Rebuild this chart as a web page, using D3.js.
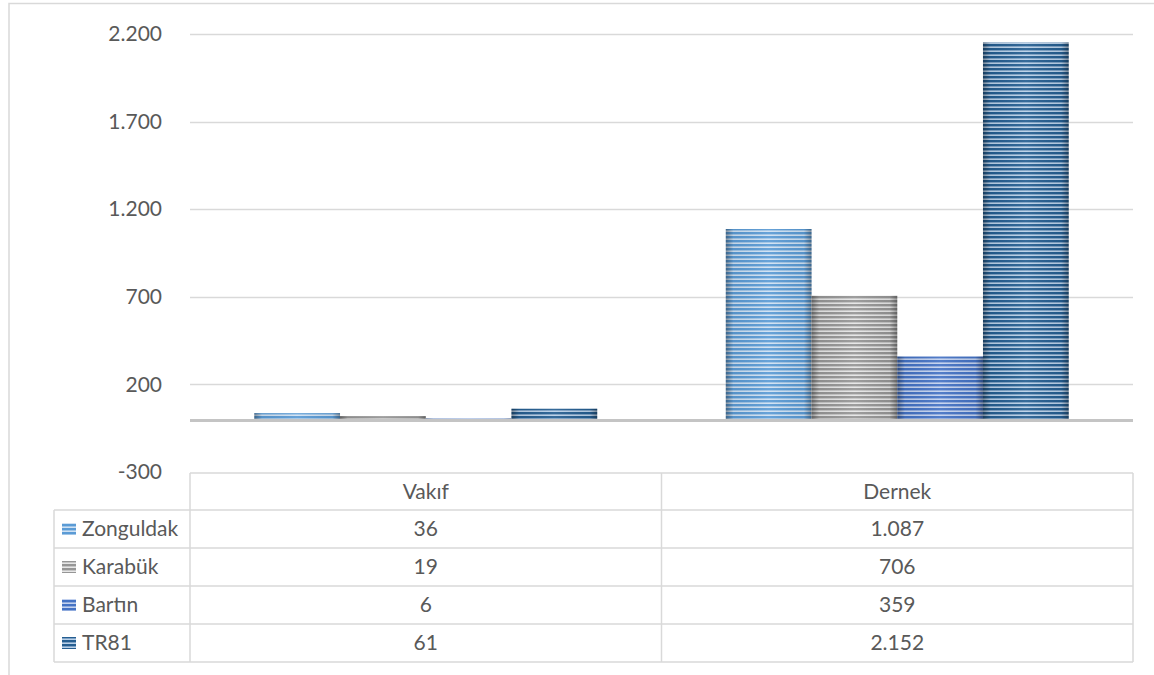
<!DOCTYPE html>
<html>
<head>
<meta charset="utf-8">
<script src="https://cdn.jsdelivr.net/npm/d3@7"></script>
<style>
  body { margin: 0; background: #fff; }
  svg text { font-family: Lato, "Open Sans", sans-serif; fill: #595959; }
</style>
</head>
<body>
<div id="chart"></div>
<script>
// data
var categories = ["Vakıf", "Dernek"];
var seriesNames = ["Zonguldak", "Karabük", "Bartın", "TR81"];
var vakifValues = [36, 19, 6, 61];
var dernekValues = [1087, 706, 359, 2152];
var yTicks = [-300, 200, 700, 1200, 1700, 2200];

var seriesDark = ["#5b9bd5", "#969696", "#4472c4", "#255e91"];
var seriesLight = ["#cfe1f3", "#e6e6e6", "#c3d2ef", "#b9d0e8"];

var width = 1154, height = 675;
var plotLeft = 190, plotRight = 1133, plotTop = 34, plotBottom = 472;
var fontSize = 21;

var valuesByCat = [vakifValues, dernekValues];

var svg = d3.select("#chart").append("svg")
  .attr("width", width)
  .attr("height", height);

var defs = svg.append("defs");

// striped fill for each series
seriesNames.forEach(function (s, i) {
  var p = defs.append("pattern")
    .attr("id", "stripe" + i)
    .attr("patternUnits", "userSpaceOnUse")
    .attr("width", 8)
    .attr("height", 4);
  p.append("rect").attr("width", 8).attr("height", 4).attr("fill", seriesLight[i]);
  p.append("rect").attr("width", 8).attr("height", 2.4).attr("fill", seriesDark[i]);
});

// shading at bar edges
var grad = defs.append("linearGradient").attr("id", "edgeShade");
grad.append("stop").attr("offset", "0%").attr("stop-color", "#000").attr("stop-opacity", 0.35);
grad.append("stop").attr("offset", "9%").attr("stop-color", "#000").attr("stop-opacity", 0.06);
grad.append("stop").attr("offset", "50%").attr("stop-color", "#fff").attr("stop-opacity", 0.08);
grad.append("stop").attr("offset", "91%").attr("stop-color", "#000").attr("stop-opacity", 0.06);
grad.append("stop").attr("offset", "100%").attr("stop-color", "#000").attr("stop-opacity", 0.35);

// outer chart frame
svg.append("path")
  .attr("d", "M9,680 L9,3.5 L1160,3.5")
  .attr("fill", "none")
  .attr("stroke", "#d9d9d9")
  .attr("stroke-width", 1.5);

var fmt = d3.formatLocale({ decimal: ",", thousands: ".", grouping: [3], currency: ["", ""], minus: "-" }).format(",d");

var y = d3.scaleLinear().domain([-300, 2200]).range([plotBottom, plotTop]);

var x = d3.scaleBand().domain(categories).range([plotLeft, plotRight]);
var xs = d3.scaleBand().domain(seriesNames).range([0, x.bandwidth()]).paddingInner(0).paddingOuter(0.75);

// gridlines
svg.append("g").selectAll("line")
  .data(yTicks.filter(function (t) { return t > -300; }))
  .enter().append("line")
  .attr("x1", plotLeft).attr("x2", plotRight)
  .attr("y1", function (d) { return Math.round(y(d)) + 0.5; })
  .attr("y2", function (d) { return Math.round(y(d)) + 0.5; })
  .attr("stroke", "#d9d9d9")
  .attr("stroke-width", 1.5);

// y axis labels
var yAxis = d3.axisLeft(y).tickValues(yTicks).tickFormat(fmt).tickSize(0).tickPadding(0);
var yg = svg.append("g")
  .attr("transform", "translate(162,0)")
  .call(yAxis);
yg.select(".domain").remove();
yg.selectAll("text")
  .style("font-family", "Lato, 'Open Sans', sans-serif")
  .attr("font-size", fontSize)
  .attr("fill", "#595959");

// bars
var groups = svg.append("g").selectAll("g")
  .data(categories)
  .enter().append("g")
  .attr("transform", function (d) { return "translate(" + x(d) + ",0)"; });

groups.each(function (cat, ci) {
  var g = d3.select(this);
  var vals = valuesByCat[ci];
  seriesNames.forEach(function (s, si) {
    var v = vals[si];
    var bx = xs(s), bw = xs.bandwidth();
    var by = y(Math.max(v, 0)), bh = Math.abs(y(v) - y(0));
    g.append("rect")
      .attr("x", bx).attr("y", by).attr("width", bw).attr("height", bh)
      .attr("fill", "url(#stripe" + si + ")");
    g.append("rect")
      .attr("x", bx).attr("y", by).attr("width", bw).attr("height", bh)
      .attr("fill", "url(#edgeShade)");
  });
});

// zero line
svg.append("line")
  .attr("x1", plotLeft).attr("x2", plotRight)
  .attr("y1", y(0) + 1).attr("y2", y(0) + 1)
  .attr("stroke", "#c4c4c4")
  .attr("stroke-width", 3);

// data table
var rowTop = 473, headH = 37, rowH = 38, labelLeft = 54;
var tbl = svg.append("g");
var lineCol = "#d9d9d9";

function hline(x1, x2, yy) {
  tbl.append("line").attr("x1", x1).attr("x2", x2).attr("y1", yy).attr("y2", yy)
    .attr("stroke", lineCol).attr("stroke-width", 1.5);
}
function vline(xx, y1, y2) {
  tbl.append("line").attr("x1", xx).attr("x2", xx).attr("y1", y1).attr("y2", y2)
    .attr("stroke", lineCol).attr("stroke-width", 1.5);
}

var tableBottom = rowTop + headH + rowH * seriesNames.length;
hline(plotLeft, plotRight, rowTop);
for (var r = 0; r <= seriesNames.length; r++) {
  hline(labelLeft, plotRight, rowTop + headH + r * rowH);
}
vline(labelLeft, rowTop + headH, tableBottom);
vline(plotLeft, rowTop, tableBottom);
categories.forEach(function (c) { vline(x(c) + x.bandwidth(), rowTop, tableBottom); });

// header
tbl.selectAll("text.head")
  .data(categories)
  .enter().append("text")
  .attr("class", "head")
  .attr("x", function (d) { return x(d) + x.bandwidth() / 2; })
  .attr("y", rowTop + headH / 2)
  .attr("dy", "0.35em")
  .attr("text-anchor", "middle")
  .attr("font-size", fontSize)
  .text(function (d) { return d; });

seriesNames.forEach(function (s, si) {
  var cy = rowTop + headH + si * rowH + rowH / 2;
  tbl.append("rect")
    .attr("x", 62).attr("y", cy - 6).attr("width", 14).attr("height", 12)
    .attr("fill", "url(#stripe" + si + ")");
  tbl.append("text")
    .attr("x", 82).attr("y", cy).attr("dy", "0.35em")
    .attr("font-size", fontSize)
    .text(s);
  categories.forEach(function (c, ci) {
    tbl.append("text")
      .attr("x", x(c) + x.bandwidth() / 2)
      .attr("y", cy).attr("dy", "0.35em")
      .attr("text-anchor", "middle")
      .attr("font-size", fontSize)
      .text(fmt(valuesByCat[ci][si]));
  });
});
</script>
</body>
</html>
